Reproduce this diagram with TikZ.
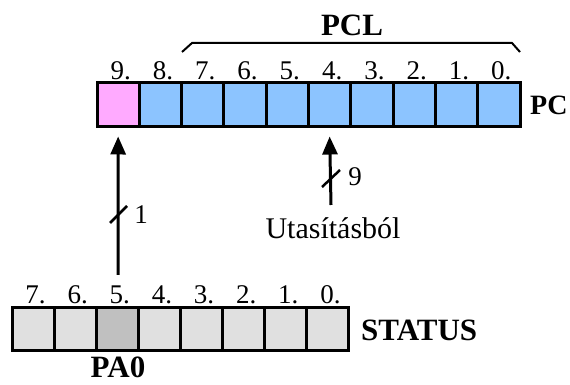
\documentclass[tikz,border=0pt]{standalone}
\usepackage{fontspec}
\setmainfont{Liberation Serif}
\usetikzlibrary{arrows.meta}
\definecolor{pinkbit}{HTML}{FFAAFF}
\definecolor{bluebit}{HTML}{8CC4FF}
\definecolor{graybit}{HTML}{E0E0E0}
\definecolor{darkbit}{HTML}{C0C0C0}
\begin{document}
\begin{tikzpicture}[x=1pt,y=1pt,
  pccell/.style={draw=black,line width=3pt,fill=bluebit,minimum width=42.3pt,minimum height=44pt,inner sep=0pt},
  stcell/.style={draw=black,line width=3pt,fill=graybit,minimum width=42.1pt,minimum height=43pt,inner sep=0pt},
  bitlbl/.style={font=\fontsize{27}{30}\selectfont,inner sep=0pt},
  biglbl/.style={font=\fontsize{31}{35}\selectfont\bfseries,inner sep=0pt},
  arr/.style={line width=3pt,-{Triangle[length=18pt,width=15pt]}},
  slash/.style={line width=2.5pt},
]
\useasboundingbox (0,0) rectangle (570,385);
% PC register
\foreach \b [count=\k from 0] in {9,8,7,6,5,4,3,2,1,0}{
  \node[pccell] (pc\b) at ({97+42.3*(\k+0.5)},280) {};
  \node[bitlbl] (pcl\b) at ({99.5+42.3*(\k+0.5)},314) {\b.};
}
\node[pccell,fill=pinkbit] at (pc9) {};
% STATUS register
\foreach \b [count=\k from 0] in {7,6,5,4,3,2,1,0}{
  \node[stcell] (st\b) at ({12+42.125*(\k+0.5)},55.5) {};
  \node[bitlbl] (stl\b) at ({14.5+42.125*(\k+0.5)},90) {\b.};
}
\node[stcell,fill=darkbit] at (st5) {};
% labels
\node[biglbl] (pclbl) at (352,360) {PCL};
\node[biglbl,font=\fontsize{28}{32}\selectfont\bfseries,anchor=west] (pcname) at (530,280) {PC};
\node[biglbl,anchor=west] (stname) at (361,55) {STATUS};
\node[biglbl] (pa0) at (118,18) {PA0};
\node[font=\fontsize{30}{33}\selectfont,inner sep=0pt] (utas) at (333,157) {Utasításból};
% brace
\draw[line width=2pt] (182,333) -- (192,342) -- (512,342) -- (520,333);
% arrows
\coordinate (a1) at (118,110);
\coordinate (a2) at (331,180);
\draw[arr] (a1) -- ([yshift=-8pt]pc9.south);
\draw[arr] (a2) -- ([yshift=-8pt]pc4.south);
\draw[slash] (110,162) -- (127,179);
\draw[slash] (322,198) -- (340,215);
\node[bitlbl] (n1) at (141,170) {1};
\node[bitlbl] (n9) at (355,208) {9};
\end{tikzpicture}
\end{document}
